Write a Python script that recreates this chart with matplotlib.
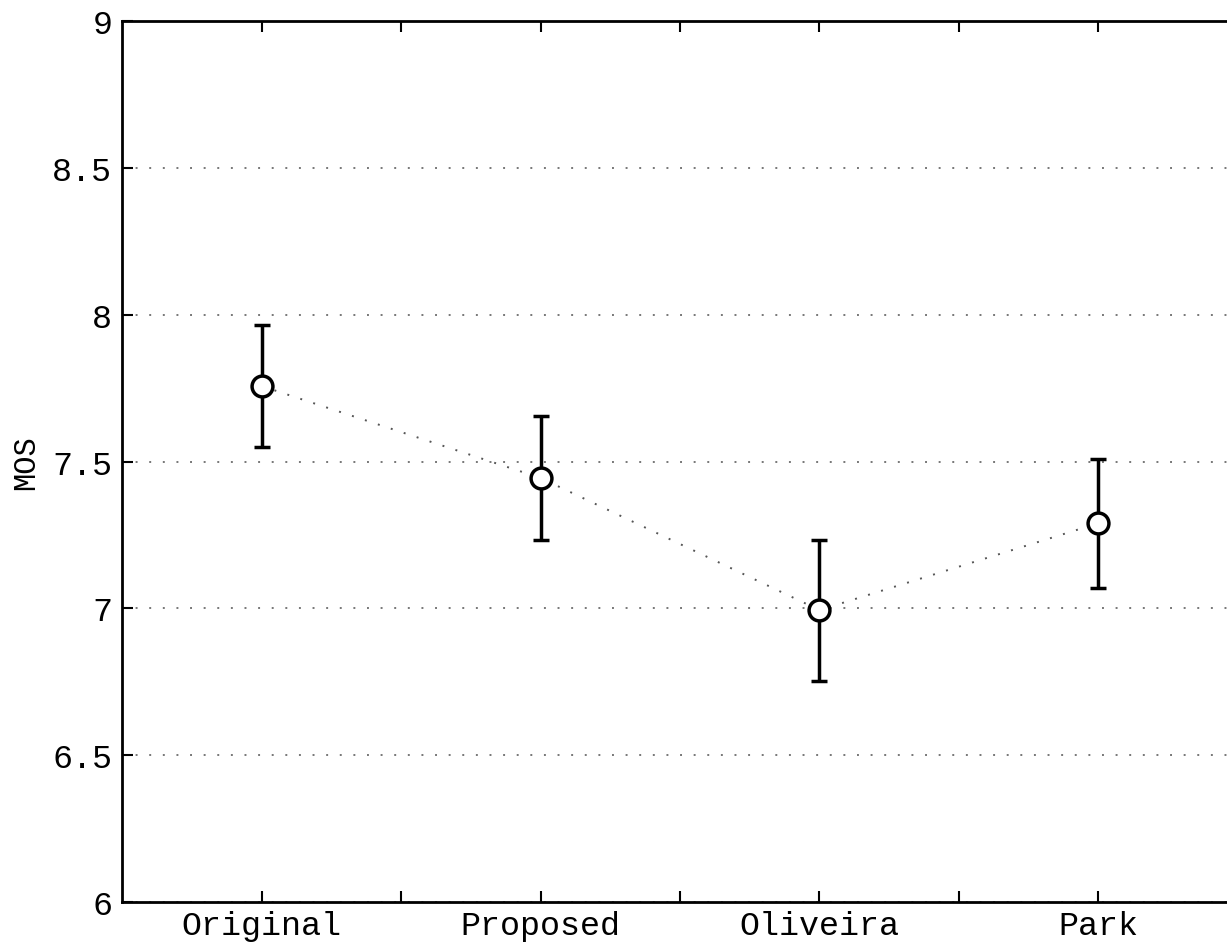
import matplotlib
matplotlib.use("Agg")
import matplotlib.pyplot as plt
from matplotlib.ticker import FixedLocator

# data
methods = ["Original", "Proposed", "Oliveira", "Park"]
mos = [7.757, 7.444, 6.994, 7.290]
ci = [0.207, 0.210, 0.240, 0.220]

plt.rcParams['font.family'] = ['Liberation Mono', 'DejaVu Sans Mono']

fig = plt.figure(figsize=(12.27, 9.45), dpi=100)
# axes is wider than the figure: the right side is cut off as in the reference
ax = fig.add_axes([122 / 1227, 1 - 903 / 945, 1116 / 1227, 881 / 945])

x = list(range(len(methods)))
ax.plot(x, mos, linestyle=(0, (1, 6)), color='#555555', lw=1.4, zorder=2)
ax.errorbar(x, mos, yerr=ci, fmt='none', ecolor='black', elinewidth=2.5,
            capsize=6, capthick=2.5, zorder=3)
ax.plot(x, mos, 'o', markersize=15, markerfacecolor='white',
        markeredgecolor='black', markeredgewidth=2.5, zorder=4)

ax.set_xlim(-0.5, 3.5)
ax.set_ylim(6, 9)
ax.set_xticks(x)
ax.set_xticklabels(methods, fontsize=24)
ax.xaxis.set_minor_locator(FixedLocator([0.5, 1.5, 2.5]))
ax.set_yticks([6, 6.5, 7, 7.5, 8, 8.5, 9])
ax.set_yticklabels(['6', '6.5', '7', '7.5', '8', '8.5', '9'], fontsize=24)
ax.tick_params(axis='both', which='both', direction='in', length=8, width=1.5,
               top=True, right=True, pad=7)
ax.tick_params(axis='x', pad=6)
ax.yaxis.grid(True, linestyle=(0, (1, 6)), color='#777777', lw=1.4)
ax.set_axisbelow(True)
ax.set_ylabel('MOS', fontsize=22, labelpad=8)

for s in ax.spines.values():
    s.set_linewidth(2)

fig.savefig('out.png', dpi=100)
